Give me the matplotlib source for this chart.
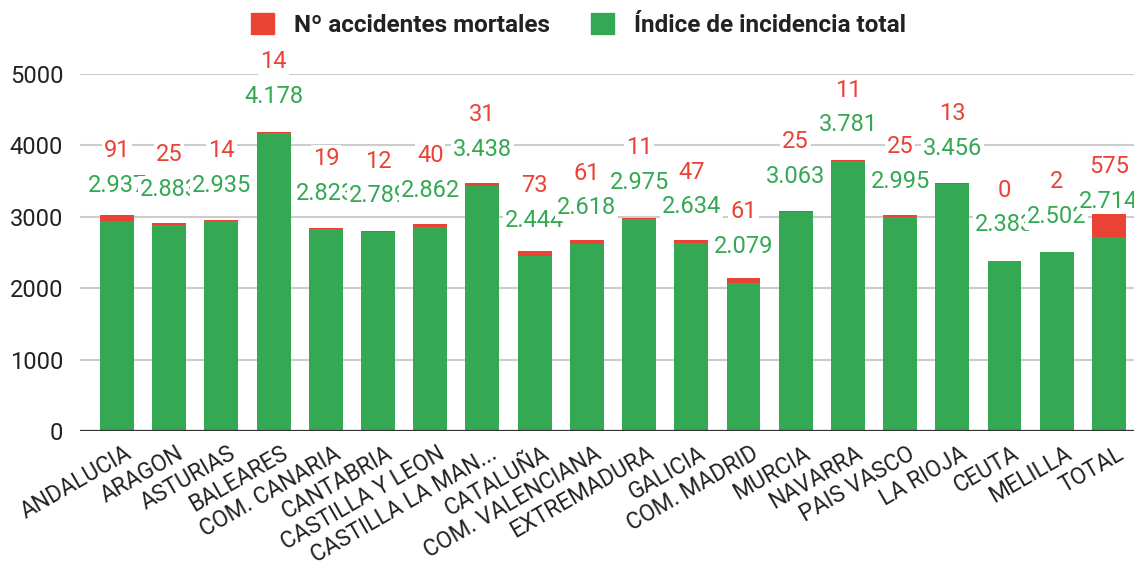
import matplotlib
matplotlib.use("Agg")
import matplotlib.pyplot as plt
import matplotlib.transforms as mtransforms
from matplotlib.patches import Patch

plt.rcParams['font.family'] = ['Roboto', 'DejaVu Sans']

regiones = ['ANDALUCIA', 'ARAGON', 'ASTURIAS', 'BALEARES', 'COM. CANARIA',
            'CANTABRIA', 'CASTILLA Y LEON', 'CASTILLA LA MAN...', 'CATALUÑA',
            'COM. VALENCIANA', 'EXTREMADURA', 'GALICIA', 'COM. MADRID',
            'MURCIA', 'NAVARRA', 'PAIS VASCO', 'LA RIOJA', 'CEUTA', 'MELILLA',
            'TOTAL']
incidencia = [2937, 2883, 2935, 4178, 2823, 2789, 2862, 3438, 2444, 2618,
              2975, 2634, 2079, 3063, 3781, 2995, 3456, 2383, 2502, 2714]
mortales = [91, 25, 14, 14, 19, 12, 40, 31, 73, 61,
            11, 47, 61, 25, 11, 25, 13, 0, 2, 575]

ROJO = '#EA4335'
VERDE = '#34A853'

fig = plt.figure(figsize=(11.34, 5.67), dpi=100)
ax = fig.add_axes([0.0705, 0.2399, 0.9295, 0.6296])

x = list(range(len(regiones)))
ax.bar(x, incidencia, width=0.65, color=VERDE, zorder=2)
ax.bar(x, mortales, width=0.65, bottom=incidencia, color=ROJO, zorder=2)

ax.set_ylim(0, 5000)
ax.set_xlim(-0.71, 19.48)
ax.set_yticks([0, 1000, 2000, 3000, 4000, 5000])
ax.yaxis.grid(True, color='#cccccc', lw=1.5, zorder=0)
ax.axhline(0, color='#333333', lw=1.6, zorder=3)
for s in ax.spines.values():
    s.set_visible(False)
ax.tick_params(axis='both', length=0, labelsize=17, colors='#222222')
ax.tick_params(axis='y', pad=12)

ax.set_xticks(x)
ax.set_xticklabels(regiones, rotation=30, ha='right', va='top',
                   rotation_mode='anchor', fontsize=16.5)
offset = mtransforms.ScaledTranslation(0.07, -0.06, fig.dpi_scale_trans)
for lbl in ax.get_xticklabels():
    lbl.set_transform(lbl.get_transform() + offset)

def miles(v):
    return f"{v:,}".replace(',', '.')

halo = dict(boxstyle='square,pad=0.08', fc='white', ec='none')
for i in x:
    ax.annotate(miles(incidencia[i]), (i, incidencia[i]), xytext=(0, 26),
                textcoords='offset points', ha='center', va='center',
                fontsize=17, color=VERDE, bbox=halo, zorder=5,
                annotation_clip=False)
    ax.annotate(str(mortales[i]), (i, incidencia[i]), xytext=(0, 51),
                textcoords='offset points', ha='center', va='center',
                fontsize=17, color=ROJO, bbox=halo, zorder=5,
                annotation_clip=False)

handles = [Patch(color=ROJO, label='Nº accidentes mortales'),
           Patch(color=VERDE, label='Índice de incidencia total')]
leg = fig.legend(handles=handles, loc='center', bbox_to_anchor=(0.51, 0.956),
                 ncol=2, frameon=False, handlelength=0.95, handleheight=0.95,
                 handletextpad=0.8, columnspacing=1.7,
                 prop={'size': 17.5, 'weight': 'bold'})
for t in leg.get_texts():
    t.set_color('#222222')

fig.savefig('out.png', dpi=100)
